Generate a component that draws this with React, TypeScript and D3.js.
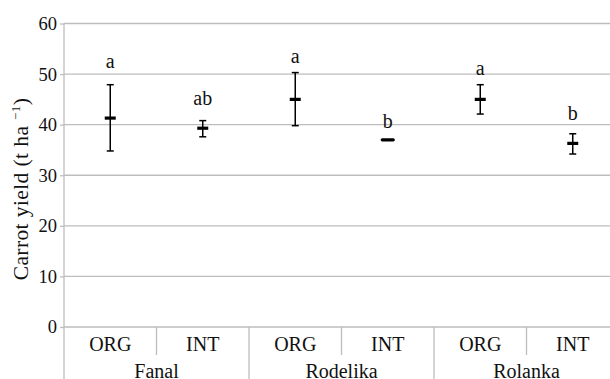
import { useEffect, useRef } from "react";
import * as d3 from "d3";

// ── Data ───────────────────────────────────────────────────────────────────
const groups = ["Fanal", "Rodelika", "Rolanka"];
const systems = ["ORG", "INT"];
const means = [41.3, 39.3, 45.0, 37.0, 45.0, 36.3];
const upper = [47.9, 40.8, 50.3, 37.1, 47.9, 38.2];
const lower = [34.8, 37.6, 39.8, 36.9, 42.1, 34.2];
const letters = ["a", "ab", "a", "b", "a", "b"];
const letterY = [51.2, 43.9, 52.2, 39.4, 49.9, 41.0];
const yTicks = [0, 10, 20, 30, 40, 50, 60];

const W = 610;
const H = 379;
const FONT = "'Liberation Serif', 'Times New Roman', serif";

export default function App() {
  const ref = useRef<SVGSVGElement | null>(null);

  useEffect(() => {
    if (!ref.current) return;
    const svg = d3.select(ref.current);
    svg.selectAll("*").remove();

    const m = { l: 64, t: 23.5, b: 52 };
    const slot = 92.5;
    const slots = groups.flatMap((g) => systems.map((s) => `${g}|${s}`));

    const x = d3
      .scaleBand()
      .domain(slots)
      .range([m.l, m.l + slot * slots.length]);

    const y = d3.scaleLinear().domain([0, 60]).range([H - m.b, m.t]);

    const grid = "#bdbdbd";

    // ── Gridlines + y axis ─────────────────────────────────────────────────
    const yAxis = svg
      .append("g")
      .attr("transform", `translate(${m.l},0)`)
      .call(
        d3
          .axisLeft(y)
          .tickValues(yTicks)
          .tickSize(4)
          .tickPadding(3)
          .tickFormat(d3.format("d"))
      );
    yAxis.attr("font-family", FONT).attr("font-size", 18.5);
    yAxis.select(".domain").remove();
    yAxis.selectAll("line").attr("stroke", grid).attr("stroke-width", 1.3);
    yAxis.selectAll("text").attr("fill", "#111");

    svg
      .append("g")
      .selectAll("line")
      .data(yTicks)
      .enter()
      .append("line")
      .attr("x1", m.l)
      .attr("x2", W)
      .attr("y1", (d) => y(d))
      .attr("y2", (d) => y(d))
      .attr("stroke", grid)
      .attr("stroke-width", 1.3);

    svg
      .append("line")
      .attr("x1", m.l)
      .attr("x2", m.l)
      .attr("y1", m.t)
      .attr("y2", H)
      .attr("stroke", grid)
      .attr("stroke-width", 1.3);

    // ── Category separators ────────────────────────────────────────────────
    slots.forEach((s, i) => {
      if (i === 0) return;
      const xx = x(s) as number;
      const isGroup = i % systems.length === 0;
      svg
        .append("line")
        .attr("x1", xx)
        .attr("x2", xx)
        .attr("y1", y(0))
        .attr("y2", isGroup ? H : y(0) + 28)
        .attr("stroke", grid)
        .attr("stroke-width", 1.3);
    });

    // ── Category labels ────────────────────────────────────────────────────
    svg
      .append("g")
      .selectAll("text")
      .data(slots)
      .enter()
      .append("text")
      .attr("x", (d) => (x(d) as number) + x.bandwidth() / 2)
      .attr("y", y(0) + 24)
      .attr("text-anchor", "middle")
      .attr("font-family", FONT)
      .attr("font-size", 20)
      .attr("fill", "#111")
      .text((d) => d.split("|")[1]);

    svg
      .append("g")
      .selectAll("text")
      .data(groups)
      .enter()
      .append("text")
      .attr("x", (g) => {
        const a = x(`${g}|${systems[0]}`) as number;
        return a + x.bandwidth();
      })
      .attr("y", y(0) + 50.5)
      .attr("text-anchor", "middle")
      .attr("font-family", FONT)
      .attr("font-size", 20)
      .attr("fill", "#111")
      .text((g) => g);

    // ── Error bars + means ────────────────────────────────────────────────
    const pts = svg.append("g");
    slots.forEach((s, i) => {
      const cx = (x(s) as number) + x.bandwidth() / 2;
      if (upper[i] - lower[i] > 0.5) {
        pts
          .append("line")
          .attr("x1", cx)
          .attr("x2", cx)
          .attr("y1", y(upper[i]))
          .attr("y2", y(lower[i]))
          .attr("stroke", "#000")
          .attr("stroke-width", 1.5);
        [upper[i], lower[i]].forEach((v) => {
          pts
            .append("line")
            .attr("x1", cx - 3.5)
            .attr("x2", cx + 3.5)
            .attr("y1", y(v))
            .attr("y2", y(v))
            .attr("stroke", "#000")
            .attr("stroke-width", 1.5);
        });
      }
      pts
        .append("line")
        .attr("x1", cx - 5.5)
        .attr("x2", cx + 5.5)
        .attr("y1", y(means[i]))
        .attr("y2", y(means[i]))
        .attr("stroke", "#000")
        .attr("stroke-width", 3.2)
        .attr("stroke-linecap", upper[i] - lower[i] > 0.5 ? "butt" : "round");
      pts
        .append("text")
        .attr("x", cx)
        .attr("y", y(letterY[i]))
        .attr("text-anchor", "middle")
        .attr("font-family", FONT)
        .attr("font-size", 20)
        .attr("fill", "#111")
        .text(letters[i]);
    });

    // ── Y title ────────────────────────────────────────────────────────────
    const title = svg
      .append("text")
      .attr("transform", `translate(28,189) rotate(-90)`)
      .attr("text-anchor", "middle")
      .attr("font-family", FONT)
      .attr("font-size", 21.5)
      .attr("letter-spacing", 0.4)
      .attr("fill", "#111");
    title.append("tspan").text("Carrot yield (t ha ");
    title
      .append("tspan")
      .attr("font-size", 13)
      .attr("dy", -8)
      .text("−1");
    title.append("tspan").attr("dy", 8).text(")");
  }, []);

  return (
    <svg
      ref={ref}
      width={W}
      height={H}
      style={{ position: "absolute", left: 0, top: 0, background: "#fff" }}
    />
  );
}
